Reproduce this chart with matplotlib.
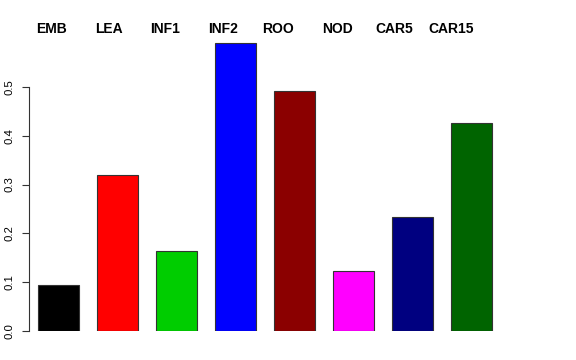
import matplotlib
matplotlib.use("Agg")
import matplotlib.pyplot as plt

plt.rcParams['font.family'] = ['Liberation Sans', 'DejaVu Sans']

tissues = ["EMB", "LEA", "INF1", "INF2", "ROO", "NOD", "CAR5", "CAR15"]
values = [0.094, 0.319, 0.164, 0.589, 0.491, 0.123, 0.233, 0.426]
colors = ["black", "red", "#00CD00", "blue", "#8B0000", "magenta", "#000080", "#006400"]

fig = plt.figure(figsize=(5.76, 3.6), dpi=100)
# axes placed in pixels to mimic the R barplot layout
ax = fig.add_axes([28.5 / 576, 29 / 360, 516 / 576, 293 / 360])

x = list(range(len(tissues)))
ax.bar(x, values, width=0.71, color=colors, edgecolor="#333333", linewidth=0.8)

ax.set_xlim(-30 / 59, 486 / 59)
ax.set_ylim(0, 0.6)

for s in ["top", "right", "bottom"]:
    ax.spines[s].set_visible(False)
ax.spines["left"].set_bounds(0, 0.5)
ax.spines["left"].set_color("#333333")
ax.set_xticks([])
ax.set_yticks([0, 0.1, 0.2, 0.3, 0.4, 0.5])
ax.set_yticklabels(["0.0", "0.1", "0.2", "0.3", "0.4", "0.5"], rotation=90,
                   va="center", fontsize=8.2)
ax.tick_params(axis="y", length=5.2, width=0.8, color="#333333", pad=5)

# labels along the top, left-aligned in pixel positions
label_px = [36, 95, 150, 208, 262, 322, 375, 428]
for name, px in zip(tissues, label_px):
    fig.text(px / 576, 1 - 33 / 360, name, ha="left", va="baseline",
             fontsize=10, fontweight="bold")

fig.savefig("out.png", dpi=100)
